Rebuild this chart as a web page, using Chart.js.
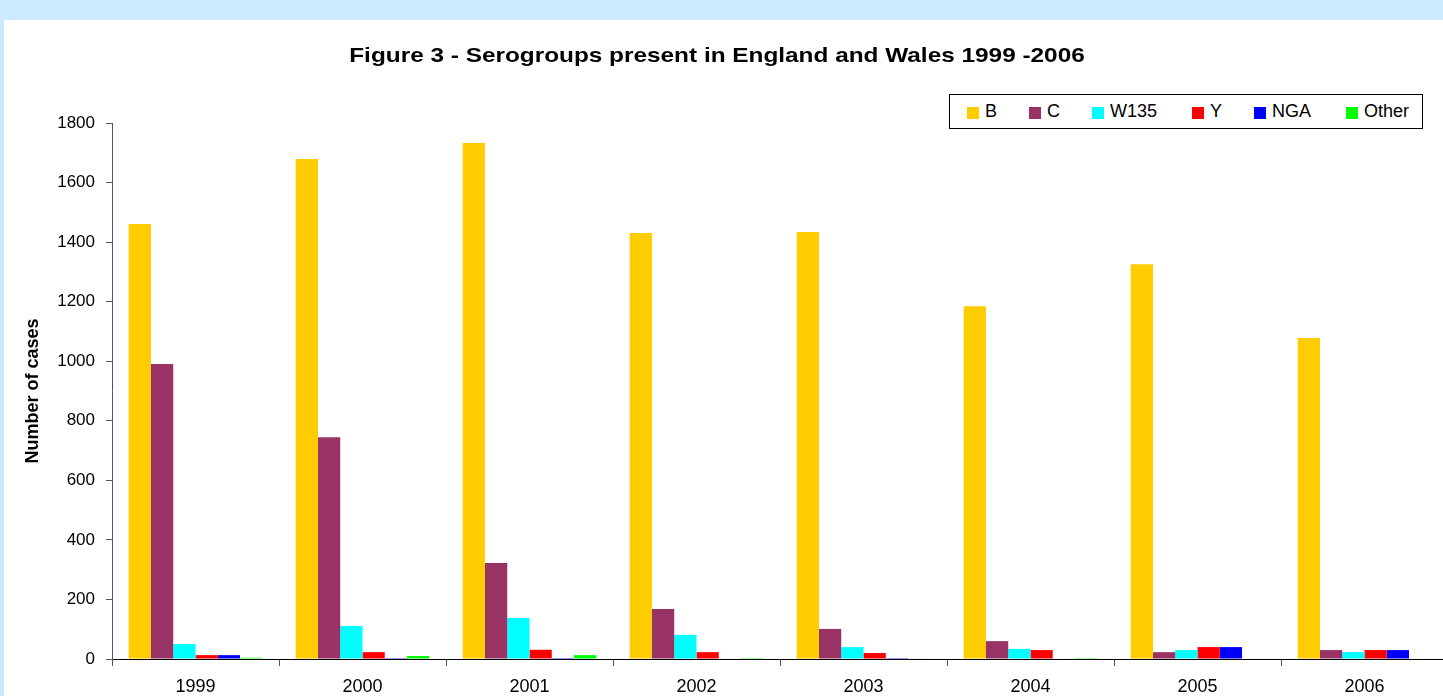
<!DOCTYPE html>
<html>
<head>
<meta charset="utf-8">
<script src="https://cdn.jsdelivr.net/npm/chart.js@4/dist/chart.umd.min.js"></script>
<style>
  html, body { margin: 0; padding: 0; width: 1443px; height: 696px; overflow: hidden; background: #cceaff; font-family: "Liberation Sans", Arial, sans-serif; }
  #panel { position: absolute; left: 4px; top: 20px; width: 1500px; height: 700px; background: #ffffff; overflow: hidden; }
  #wrap { position: absolute; left: 0; top: 0; width: 1480px; height: 700px; }
  #title { position: absolute; left: 0; top: 42px; width: 1434px; text-align: center; font-weight: bold; font-size: 21px; line-height: 26px; color: #000; transform: scaleX(1.16); transform-origin: 717px 0; }
  #legend { position: absolute; left: 949px; top: 94px; width: 472px; height: 33px; border: 1px solid #000; background: #fff; }
  .item { position: absolute; top: 0; height: 33px; line-height: 33px; font-size: 18px; color: #000; white-space: nowrap; }
  .sw { position: absolute; top: 12px; width: 12px; height: 12px; }
  .lbl { position: absolute; top: 0; }
</style>
</head>
<body>
<div id="panel"><div id="wrap"><canvas id="c"></canvas></div></div>
<div id="title">Figure 3 - Serogroups present in England and Wales 1999 -2006</div>
<div id="legend"></div>
<script>
const years = ['1999', '2000', '2001', '2002', '2003', '2004', '2005', '2006'];
const seriesB     = [1461, 1679, 1733, 1431, 1434, 1185, 1326, 1078];
const seriesC     = [991, 745, 322, 168, 101, 60, 23, 30];
const seriesW135  = [50, 111, 138, 81, 40, 34, 30, 23];
const seriesY     = [13, 23, 31, 23, 20, 30, 40, 30];
const seriesNGA   = [13, 3, 3, 0, 3, 0, 40, 30];
const seriesOther = [4, 10, 13, 3, 2, 3, 0, 0];
const seriesNames = ['B', 'C', 'W135', 'Y', 'NGA', 'Other'];
const yTicks = [0, 200, 400, 600, 800, 1000, 1200, 1400, 1600, 1800];

const seriesColors = ['#ffcc00', '#993366', '#00ffff', '#ff0000', '#0000ff', '#00ff00'];
const allSeries = [seriesB, seriesC, seriesW135, seriesY, seriesNGA, seriesOther];
const legendLefts = [17, 79, 142, 242, 304, 396];

// HTML legend built from series names/colours
const legend = document.getElementById('legend');
seriesNames.forEach((n, i) => {
  const it = document.createElement('div');
  it.className = 'item';
  it.style.left = legendLefts[i] + 'px';
  const sw = document.createElement('span');
  sw.className = 'sw';
  sw.style.left = '0px';
  sw.style.background = seriesColors[i];
  const lb = document.createElement('span');
  lb.className = 'lbl';
  lb.style.left = '18px';
  lb.textContent = n;
  it.appendChild(sw); it.appendChild(lb);
  legend.appendChild(it);
});

Chart.defaults.font.family = '"Liberation Sans", Arial, sans-serif';
Chart.defaults.color = '#000';

new Chart(document.getElementById('c'), {
  type: 'bar',
  data: {
    labels: years,
    datasets: allSeries.map((d, i) => ({
      label: seriesNames[i],
      data: d,
      backgroundColor: seriesColors[i],
      borderWidth: 0,
      categoryPercentage: 0.8,
      barPercentage: 1.0
    }))
  },
  options: {
    responsive: true,
    maintainAspectRatio: false,
    devicePixelRatio: 1,
    animation: false,
    layout: { padding: { top: 103, right: 36, bottom: 21, left: 0 } },
    plugins: { legend: { display: false }, title: { display: false }, tooltip: { enabled: false } },
    scales: {
      x: {
        afterFit: s => { s.height = 40; },
        border: { display: true, color: '#000', width: 1 },
        grid: { display: true, drawOnChartArea: false, drawTicks: true, tickLength: 7, color: '#555', offset: true },
        ticks: { font: { size: 18 }, padding: 10, color: '#000', maxRotation: 0 }
      },
      y: {
        min: 0, max: 1800,
        afterFit: s => { s.width = 108; },
        afterBuildTicks: s => { s.ticks = yTicks.map(v => ({ value: v })); },
        border: { display: true, color: '#555', width: 1 },
        grid: { display: true, drawOnChartArea: false, drawTicks: true, tickLength: 6, color: '#555' },
        ticks: { font: { size: 17 }, padding: 11, color: '#000', callback: v => String(v) },
        title: { display: true, text: 'Number of cases', font: { size: 18, weight: 'bold' }, color: '#000', padding: { top: 18, bottom: 0 } }
      }
    }
  }
});
</script>
</body>
</html>
